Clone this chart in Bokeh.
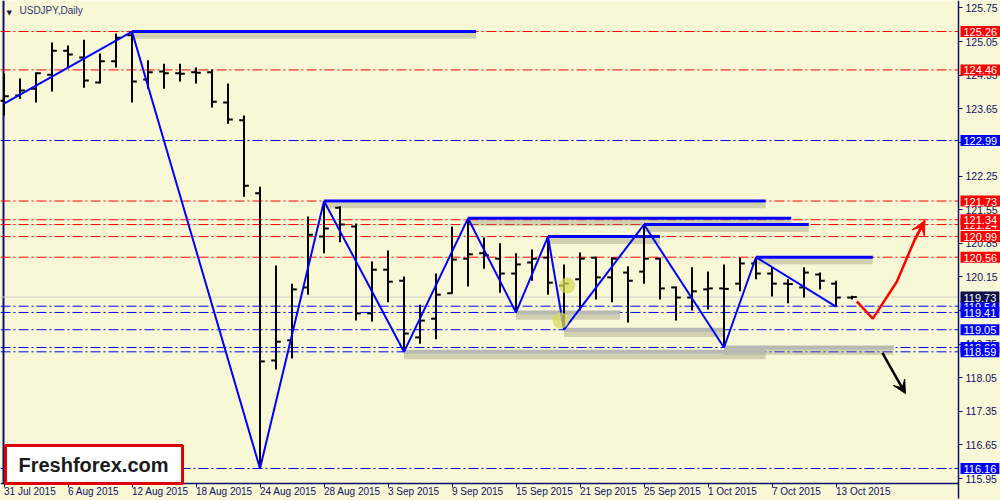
from bokeh.plotting import figure
from bokeh.models import (ColumnDataSource, Label, Arrow, VeeHead,
                          FixedTicker, Range1d, PrintfTickFormatter)
from bokeh.embed import file_html
from bokeh.resources import INLINE

# ---------------- data ----------------
dates = ["2015-07-31", "2015-08-03", "2015-08-04", "2015-08-05", "2015-08-06", "2015-08-07",
         "2015-08-10", "2015-08-11", "2015-08-12", "2015-08-13", "2015-08-14", "2015-08-17",
         "2015-08-18", "2015-08-19", "2015-08-20", "2015-08-21", "2015-08-24", "2015-08-25",
         "2015-08-26", "2015-08-27", "2015-08-28", "2015-08-31", "2015-09-01", "2015-09-02",
         "2015-09-03", "2015-09-04", "2015-09-07", "2015-09-08", "2015-09-09", "2015-09-10",
         "2015-09-11", "2015-09-14", "2015-09-15", "2015-09-16", "2015-09-17", "2015-09-18",
         "2015-09-21", "2015-09-22", "2015-09-23", "2015-09-24", "2015-09-25", "2015-09-28",
         "2015-09-29", "2015-09-30", "2015-10-01", "2015-10-02", "2015-10-05", "2015-10-06",
         "2015-10-07", "2015-10-08", "2015-10-09", "2015-10-12", "2015-10-13", "2015-10-14"]

opens = [123.82, 123.93, 124.07, 124.36, 124.86, 124.72, 124.20, 124.64, 125.18, 124.26,
         124.43, 124.39, 124.41, 124.41, 123.78, 123.41, 121.89, 118.41, 118.83, 119.93,
         120.99, 121.59, 121.20, 119.39, 120.30, 120.07, 118.89, 119.28, 119.81, 120.53,
         120.64, 120.53, 120.22, 120.45, 120.55, 119.97, 120.10, 120.55, 120.14, 120.24,
         120.26, 120.53, 119.93, 119.72, 119.89, 119.91, 120.01, 120.43, 120.22, 120.01,
         119.93, 120.20, 120.01, 119.72]
highs = [124.39, 124.28, 124.41, 125.03, 124.97, 125.09, 124.80, 125.22, 125.26, 124.66,
         124.59, 124.59, 124.51, 124.47, 124.18, 123.51, 122.03, 120.39, 120.01, 121.41,
         121.73, 121.62, 121.26, 120.47, 120.70, 120.16, 119.57, 120.22, 121.20, 121.37,
         120.97, 120.85, 120.64, 120.72, 120.99, 120.41, 120.66, 120.57, 120.56, 120.37,
         121.24, 120.55, 119.95, 120.35, 120.26, 120.41, 120.55, 120.56, 120.35, 120.10,
         120.35, 120.24, 120.07, 119.76]
lows = [123.51, 123.86, 123.78, 124.01, 124.51, 124.09, 124.18, 124.51, 123.78, 124.07,
        124.07, 124.22, 124.18, 123.68, 123.34, 121.82, 116.16, 118.22, 118.45, 119.78,
        120.64, 120.87, 119.24, 119.22, 119.62, 118.59, 118.76, 118.85, 119.80, 119.95,
        120.32, 119.82, 119.41, 120.07, 119.78, 119.05, 119.45, 119.68, 119.62, 119.20,
        120.01, 119.68, 119.24, 119.45, 119.47, 118.68, 119.85, 120.10, 119.74, 119.60,
        119.72, 119.89, 119.53, 119.68]
closes = [123.91, 124.03, 124.39, 124.86, 124.78, 124.24, 124.64, 125.13, 124.22, 124.41,
          124.39, 124.38, 124.40, 123.80, 123.43, 122.05, 118.39, 118.80, 119.89, 121.03,
          121.16, 121.24, 119.39, 120.30, 120.05, 118.97, 119.24, 119.78, 120.51, 120.62,
          120.60, 120.22, 120.41, 120.53, 120.03, 120.01, 120.53, 120.14, 120.53, 120.07,
          120.53, 119.91, 119.72, 119.85, 119.91, 119.90, 120.43, 120.22, 120.01, 120.00,
          120.24, 120.07, 119.72, 119.73]

tick_idx = [0, 4, 8, 12, 16, 20, 24, 28, 32, 36, 40, 44, 48, 52]
tick_labels = ["31 Jul 2015", "6 Aug 2015", "12 Aug 2015", "18 Aug 2015", "24 Aug 2015",
               "28 Aug 2015", "3 Sep 2015", "9 Sep 2015", "15 Sep 2015", "21 Sep 2015",
               "25 Sep 2015", "1 Oct 2015", "7 Oct 2015", "13 Oct 2015"]
price_ticks = [125.75, 125.05, 124.35, 123.65, 122.95, 122.25, 121.55, 120.85, 120.15,
               119.45, 118.75, 118.05, 117.35, 116.65, 115.95]

zz_idx = [0, 8, 16, 20, 25, 29, 32, 34, 35, 40, 45, 47, 52]
zz_px = [123.76, 125.26, 116.16, 121.73, 118.59, 121.37, 119.41, 120.99, 119.05, 121.24,
         118.68, 120.56, 119.53]

res_start = [8, 20, 29, 40, 34, 47]
res_end = [29.5, 47.6, 49.2, 50.3, 41.0, 54.3]
res_price = [125.26, 121.73, 121.37, 121.24, 120.99, 120.56]

sup_start = [32, 35, 25, 45]
sup_end = [38.5, 45.0, 47.6, 55.6]
sup_price = [119.41, 119.05, 118.59, 118.68]

red_levels = [125.26, 124.46, 121.73, 121.34, 121.24, 120.99, 120.56]
blue_levels = [122.99, 119.54, 119.41, 119.05, 118.68, 118.59, 116.16]
hidden_red = [121.24]
hidden_blue = [119.54, 118.68]
bid_price = 119.73

red_path_x = [53.3, 54.3, 55.8, 56.9, 57.55]
red_path_y = [119.64, 119.28, 120.05, 120.91, 121.32]
black_path_x = [54.9, 56.34]
black_path_y = [118.57, 117.72]

marker_x = [35.2, 34.8]
marker_y = [119.97, 119.24]

# ---------------- style / layout ----------------
BG = "#F8F8D6"
NAVY = "#10106A"
RED = "#FF0000"
BLUE = "#0000FF"
FONT = "Liberation Sans"
W, H = 1000, 500
PX_PER_BAR = 16.0
PX_PER_UNIT = 48.02
X0 = -3.5 / PX_PER_BAR                 # canvas left edge
X1 = (W - 3.5) / PX_PER_BAR            # canvas right edge
X_AX = (958 - 3.5) / PX_PER_BAR        # price-axis position
X_LEFT = (3 - 3.5) / PX_PER_BAR        # left frame line
Y1 = 125.906                           # canvas top
Y0 = Y1 - H / PX_PER_UNIT              # canvas bottom
Y_AX = Y1 - 483 / PX_PER_UNIT          # time-axis position

p = figure(width=W, height=H, x_range=Range1d(X0, X1), y_range=Range1d(Y0, Y1),
           output_backend="svg", toolbar_location=None, y_axis_location="right",
           min_border_left=0, min_border_right=0, min_border_top=0, min_border_bottom=0,
           background_fill_color=BG, border_fill_color=BG, outline_line_color=None)
p.xgrid.visible = False
p.ygrid.visible = False

ya = p.yaxis[0]
ya.fixed_location = X_AX
ya.bounds = (Y0 + 0.05, Y1)
ya.ticker = FixedTicker(ticks=price_ticks)
ya.formatter = PrintfTickFormatter(format="%.2f")
ya.axis_line_color = NAVY
ya.axis_line_width = 1.5
ya.major_tick_line_color = NAVY
ya.major_tick_out = 4
ya.major_tick_in = 0
ya.minor_tick_line_color = None
ya.major_label_standoff = 3
ya.major_label_text_font = FONT
ya.major_label_text_font_size = "10.5px"
ya.major_label_text_color = NAVY

xa = p.xaxis[0]
xa.fixed_location = Y_AX
xa.bounds = (X0, X_AX)
xa.ticker = FixedTicker(ticks=tick_idx)
xa.major_label_overrides = {i: "" for i in tick_idx}
xa.axis_line_color = NAVY
xa.axis_line_width = 1.5
xa.major_tick_line_color = NAVY
xa.major_tick_out = 4
xa.major_tick_in = 0
xa.minor_tick_line_color = None

# date labels (left-aligned at their ticks)
for i, s in zip(tick_idx, tick_labels):
    p.add_layout(Label(x=i, y=H - 485, x_units="data", y_units="screen", text=s,
                       text_font=FONT, text_font_size="10px", text_color=NAVY,
                       text_baseline="top", text_align="left"))

# left frame edge
p.segment(x0=[X_LEFT], y0=[Y_AX], x1=[X_LEFT], y1=[Y1], line_color=NAVY, line_width=2)

# horizontal level lines
n_r, n_b = len(red_levels), len(blue_levels)
p.segment(x0=[X0] * n_r, y0=red_levels, x1=[X_AX] * n_r, y1=red_levels,
          line_color=RED, line_width=1, line_dash="10 3 2 3")
p.segment(x0=[X0] * n_b, y0=blue_levels, x1=[X_AX] * n_b, y1=blue_levels,
          line_color=BLUE, line_width=1, line_dash="10 3 2 3")
p.segment(x0=[X0], y0=[bid_price], x1=[X_AX], y1=[bid_price],
          line_color="#D0D0C8", line_width=1)

# support lines (gray)
p.segment(x0=sup_start, y0=[v - 0.09 for v in sup_price], x1=sup_end,
          y1=[v - 0.09 for v in sup_price], line_color="#8A8A70", line_alpha=0.35, line_width=6)
p.segment(x0=sup_start, y0=sup_price, x1=sup_end, y1=sup_price,
          line_color="#B8B8B4", line_width=4)

# resistance lines (blue)
p.segment(x0=res_start, y0=[v - 0.09 for v in res_price], x1=res_end,
          y1=[v - 0.09 for v in res_price], line_color="#8A8A70", line_alpha=0.35, line_width=6)
p.segment(x0=res_start, y0=res_price, x1=res_end, y1=res_price,
          line_color=BLUE, line_width=3)

# OHLC bars
xs = list(range(len(opens)))
src = ColumnDataSource(dict(x=xs, xl=[i - 0.3 for i in xs], xr=[i + 0.3 for i in xs],
                            o=opens, h=highs, l=lows, c=closes, d=dates))
p.segment(x0="x", y0="l", x1="x", y1="h", source=src, line_color="black", line_width=2)
p.segment(x0="xl", y0="o", x1="x", y1="o", source=src, line_color="black", line_width=2)
p.segment(x0="x", y0="c", x1="xr", y1="c", source=src, line_color="black", line_width=2)

# zigzag
p.line(zz_idx, zz_px, line_color=BLUE, line_width=2)

# yellow markers
p.scatter(marker_x, marker_y, size=16, fill_color="#D8D858", fill_alpha=0.75, line_color=None)

# forecast arrows
p.line(red_path_x, red_path_y, line_color=RED, line_width=2.5)
p.add_layout(Arrow(end=VeeHead(size=14, fill_color=RED, line_color=RED),
                   x_start=red_path_x[-2], y_start=red_path_y[-2],
                   x_end=red_path_x[-1], y_end=red_path_y[-1],
                   line_color=RED, line_width=2.5))
p.add_layout(Arrow(end=VeeHead(size=13, fill_color="black", line_color="black"),
                   x_start=black_path_x[0], y_start=black_path_y[0],
                   x_end=black_path_x[1], y_end=black_path_y[1],
                   line_color="black", line_width=2.5))

# price tags on the right axis
def tag(v, color):
    p.add_layout(Label(x=960, y=v, x_units="screen", y_units="data",
                       text=f"{v:.2f}", text_color="white", text_font=FONT,
                       text_font_size="11px", text_baseline="middle", text_align="left",
                       background_fill_color=color,
                       padding=dict(left=3, right=3, top=2, bottom=1)))

for v in hidden_red:
    tag(v, RED)
for v in hidden_blue:
    tag(v, BLUE)
for v in red_levels:
    if v not in hidden_red:
        tag(v, RED)
for v in blue_levels:
    if v not in hidden_blue:
        tag(v, BLUE)
tag(bid_price, "#0C0C48")

# title
p.add_layout(Label(x=6, y=H - 8, x_units="screen", y_units="screen", text="▼",
                   text_font="DejaVu Sans", text_font_size="7px", text_color="#202048",
                   text_baseline="top", text_align="left"))
p.add_layout(Label(x=19, y=H - 4, x_units="screen", y_units="screen", text="USDJPY,Daily",
                   text_font=FONT, text_font_size="10px", text_color="#2C3470",
                   text_baseline="top", text_align="left"))

# logo
p.add_layout(Label(x=5, y=H - 483, x_units="screen", y_units="screen", text="Freshforex.com",
                   text_font=FONT, text_font_size="20px", text_font_style="bold",
                   text_color="#1A1A1A", text_baseline="bottom", text_align="left",
                   background_fill_color="white", border_line_color="#E00000",
                   border_line_width=3,
                   padding=dict(left=13, right=14, top=8, bottom=8)))

open("out.html", "w").write(file_html(p, INLINE))
